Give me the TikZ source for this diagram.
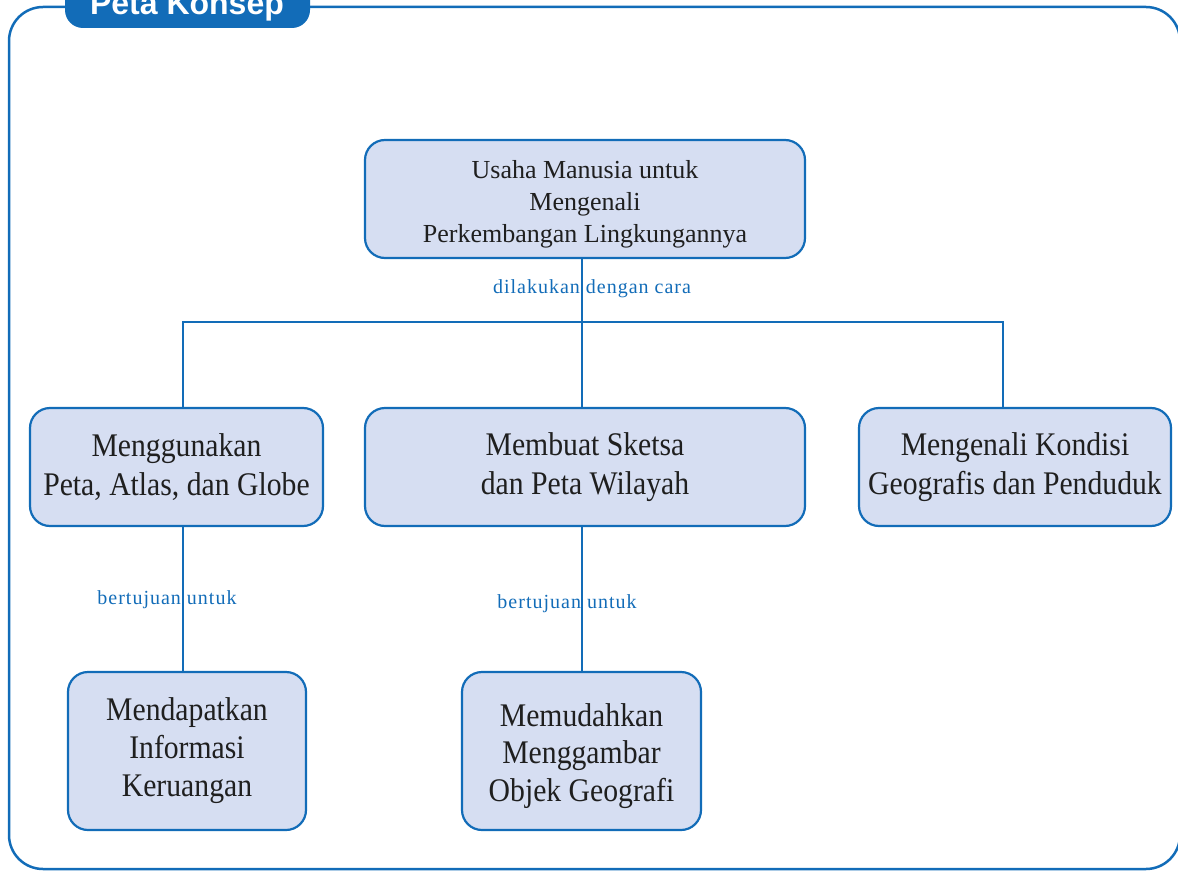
\documentclass[tikz,border=0pt]{standalone}
\usepackage{fontspec}
\setmainfont{Liberation Serif}
\newfontfamily\headfont{Liberation Sans}
\newfontfamily\boxfont[FakeStretch=0.9]{Liberation Serif}
\newfontfamily\labelfont[LetterSpace=5]{Liberation Serif}
\definecolor{mapblue}{RGB}{18,108,184}
\definecolor{boxfill}{RGB}{214,222,242}
\begin{document}
\begin{tikzpicture}[x=1pt,y=1pt,
  concept/.style={draw=mapblue, line width=2.2pt, fill=boxfill, rounded corners=20pt,
    inner sep=0pt},
  conceptext/.style={align=center, inner sep=0pt, text=black!88},
  bigtext/.style={conceptext, font=\boxfont\fontsize{33}{39}\selectfont},
  link/.style={draw=mapblue, line width=2pt},
  linklabel/.style={text=mapblue, font=\labelfont\fontsize{20}{22}\selectfont, inner sep=0pt}]
\useasboundingbox (0,0) rectangle (1178,-872);
% outer frame and title tab
\draw[mapblue, line width=2.5pt, rounded corners=34pt] (9,-7) rectangle (1180,-869);
\fill[mapblue, rounded corners=18pt] (65,30) rectangle (310,-28);
\node[text=white, font=\headfont\bfseries\fontsize{32}{36}\selectfont, anchor=base] (title) at (187,-15) {Peta Konsep};
% concept boxes
\node[concept, minimum width=440, minimum height=118] (usaha) at (585,-199) {};
\node[conceptext, font=\fontsize{26}{32}\selectfont] (usahatext) at ([yshift=-5]usaha.center)
  {Usaha Manusia untuk\\Mengenali\\Perkembangan Lingkungannya};
\node[concept, minimum width=293, minimum height=118] (peta) at (176.5,-467) {};
\node[bigtext] (petatext) at (peta.center) {Menggunakan\\Peta, Atlas, dan Globe};
\node[concept, minimum width=440, minimum height=118] (sketsa) at (585,-467) {};
\node[bigtext] (sketsatext) at (sketsa.center) {Membuat Sketsa\\dan Peta Wilayah};
\node[concept, minimum width=312, minimum height=118] (kondisi) at (1015,-467) {};
\node[bigtext] (kondisitext) at (kondisi.center) {Mengenali Kondisi\\Geografis dan Penduduk};
\node[concept, minimum width=238, minimum height=158] (info) at (187,-751) {};
\node[bigtext, font=\boxfont\fontsize{33}{38}\selectfont] (infotext) at (info.center)
  {Mendapatkan\\Informasi\\Keruangan};
\node[concept, minimum width=239, minimum height=158] (mudah) at (581.5,-751) {};
\node[bigtext, font=\boxfont\fontsize{33}{37.5}\selectfont] (mudahtext) at ([yshift=-5]mudah.center)
  {Memudahkan\\Menggambar\\Objek Geografi};
% branching connectors
\coordinate (bar) at (582,-322);
\draw[link] (usaha.south -| bar) -- (bar);
\draw[link] (peta.north -| 183,0) |- (bar) -| (kondisi.north -| 1003,0);
\draw[link] (bar) -- (sketsa.north -| bar);
\draw[link] (peta.south -| 183,0) -- (info.north -| 183,0);
\draw[link] (sketsa.south -| 582,0) -- (mudah.north -| 582,0);
% connector labels
\node[linklabel] (cara) at (592,-289) {dilakukan\hspace{6pt}dengan\hspace{6pt}cara};
\node[linklabel] (tuju1) at (167,-600) {bertujuan\hspace{6pt}untuk};
\node[linklabel] (tuju2) at (567,-604) {bertujuan\hspace{6pt}untuk};
\end{tikzpicture}
\end{document}
